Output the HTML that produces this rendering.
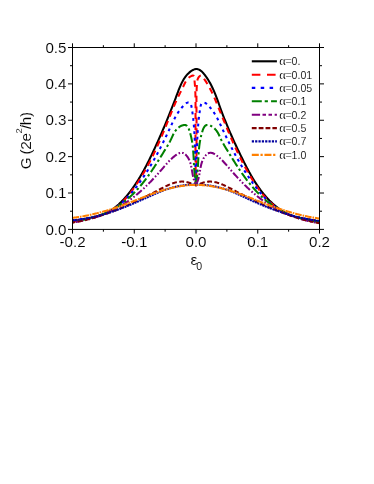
<!DOCTYPE html>
<html><head><meta charset="utf-8"><title>G vs eps0</title>
<style>
html,body{margin:0;padding:0;background:#fff;}
body{width:374px;height:484px;overflow:hidden;font-family:"Liberation Sans",sans-serif;}
svg{display:block;will-change:transform;}
text{font-family:"Liberation Sans",sans-serif;fill:#000;stroke:#fff;stroke-width:0.1px;}
</style></head><body>
<svg width="374" height="484" viewBox="0 0 374 484">
<defs><clipPath id="cp"><rect x="72.50" y="47.50" width="247.00" height="181.90"/></clipPath></defs>
<g clip-path="url(#cp)" fill="none" stroke-linejoin="round">
<path d="M72.51,220.97 L73.27,220.83 L74.04,220.69 L74.81,220.55 L75.58,220.42 L76.36,220.28 L77.14,220.15 L77.93,220.02 L78.71,219.89 L79.51,219.76 L80.30,219.62 L81.10,219.49 L81.89,219.36 L82.70,219.23 L83.50,219.09 L84.30,218.96 L85.10,218.82 L85.91,218.68 L86.71,218.53 L87.52,218.38 L88.33,218.23 L89.13,218.08 L89.93,217.92 L90.74,217.75 L91.54,217.58 L92.34,217.41 L93.14,217.22 L93.93,217.04 L94.73,216.84 L95.52,216.64 L96.30,216.43 L97.09,216.21 L97.87,215.99 L98.65,215.75 L99.42,215.51 L100.19,215.26 L100.95,215.01 L101.71,214.74 L102.46,214.47 L103.21,214.18 L103.95,213.89 L104.69,213.58 L105.41,213.26 L106.14,212.93 L106.85,212.58 L107.56,212.23 L108.26,211.86 L108.95,211.47 L109.64,211.08 L110.32,210.67 L110.99,210.26 L111.66,209.83 L112.32,209.39 L112.97,208.93 L113.62,208.47 L114.25,208.00 L114.89,207.52 L115.52,207.03 L116.14,206.53 L116.75,206.02 L117.36,205.50 L117.96,204.98 L118.56,204.45 L119.15,203.90 L119.74,203.35 L120.32,202.80 L120.89,202.24 L121.46,201.67 L122.03,201.09 L122.59,200.51 L123.14,199.92 L123.69,199.33 L124.23,198.73 L124.77,198.13 L125.31,197.52 L125.83,196.91 L126.36,196.30 L126.88,195.68 L127.40,195.06 L127.91,194.43 L128.42,193.80 L128.92,193.17 L129.42,192.54 L129.91,191.90 L130.40,191.26 L130.89,190.61 L131.37,189.97 L131.85,189.32 L132.33,188.67 L132.80,188.01 L133.27,187.35 L133.73,186.69 L134.19,186.03 L134.65,185.36 L135.10,184.70 L135.55,184.03 L135.99,183.35 L136.43,182.68 L136.87,182.00 L137.31,181.32 L137.74,180.64 L138.17,179.95 L138.60,179.27 L139.02,178.58 L139.44,177.89 L139.85,177.20 L140.27,176.51 L140.68,175.81 L141.08,175.11 L141.49,174.41 L141.89,173.71 L142.29,173.01 L142.69,172.31 L143.08,171.60 L143.47,170.90 L143.86,170.19 L144.25,169.48 L144.63,168.77 L145.01,168.06 L145.39,167.34 L145.77,166.63 L146.14,165.92 L146.51,165.20 L146.88,164.48 L147.25,163.77 L147.62,163.05 L147.98,162.33 L148.34,161.61 L148.70,160.89 L149.06,160.16 L149.42,159.44 L149.77,158.72 L150.12,158.00 L150.48,157.27 L150.83,156.55 L151.17,155.82 L151.52,155.10 L151.87,154.37 L152.21,153.65 L152.55,152.92 L152.89,152.20 L153.23,151.47 L153.57,150.75 L153.91,150.02 L154.25,149.30 L154.58,148.57 L154.92,147.85 L155.25,147.12 L155.58,146.40 L155.91,145.68 L156.24,144.95 L156.57,144.23 L156.90,143.50 L157.23,142.78 L157.56,142.05 L157.88,141.33 L158.21,140.60 L158.53,139.88 L158.85,139.15 L159.17,138.43 L159.50,137.70 L159.82,136.98 L160.14,136.25 L160.45,135.52 L160.77,134.80 L161.09,134.07 L161.40,133.34 L161.72,132.62 L162.03,131.89 L162.35,131.16 L162.66,130.43 L162.97,129.70 L163.28,128.97 L163.60,128.24 L163.91,127.51 L164.22,126.78 L164.52,126.04 L164.83,125.31 L165.14,124.58 L165.45,123.84 L165.75,123.11 L166.06,122.37 L166.36,121.63 L166.67,120.90 L166.97,120.16 L167.27,119.42 L167.58,118.68 L167.88,117.94 L168.18,117.19 L168.48,116.45 L168.78,115.71 L169.08,114.96 L169.38,114.22 L169.68,113.47 L169.98,112.72 L170.28,111.97 L170.57,111.22 L170.87,110.47 L171.17,109.72 L171.47,108.96 L171.76,108.21 L172.06,107.45 L172.35,106.70 L172.65,105.94 L172.94,105.18 L173.24,104.41 L173.53,103.65 L173.82,102.89 L174.12,102.12 L174.41,101.35 L174.70,100.59 L175.00,99.81 L175.29,99.04 L175.58,98.27 L175.87,97.49 L176.16,96.72 L176.46,95.94 L176.75,95.16 L177.04,94.38 L177.33,93.60 L177.62,92.81 L177.92,92.03 L178.21,91.25 L178.51,90.46 L178.81,89.69 L179.12,88.91 L179.43,88.13 L179.74,87.36 L180.06,86.60 L180.39,85.84 L180.72,85.08 L181.06,84.33 L181.41,83.59 L181.77,82.86 L182.14,82.13 L182.51,81.41 L182.90,80.71 L183.30,80.01 L183.71,79.32 L184.13,78.65 L184.57,77.98 L185.01,77.33 L185.48,76.69 L185.95,76.07 L186.45,75.46 L186.95,74.87 L187.48,74.29 L188.02,73.73 L188.58,73.18 L189.16,72.65 L189.75,72.15 L190.37,71.66 L191.00,71.19 L191.66,70.74 L192.32,70.33 L193.00,69.95 L193.69,69.63 L194.38,69.36 L195.07,69.17 L195.75,69.04 L196.43,69.00 L197.10,69.05 L197.75,69.17 L198.40,69.37 L199.03,69.64 L199.66,69.97 L200.27,70.36 L200.88,70.80 L201.47,71.30 L202.05,71.83 L202.62,72.40 L203.18,73.01 L203.72,73.64 L204.26,74.29 L204.78,74.95 L205.30,75.63 L205.80,76.32 L206.29,77.00 L206.76,77.69 L207.23,78.39 L207.69,79.09 L208.13,79.79 L208.57,80.50 L208.99,81.20 L209.41,81.92 L209.82,82.63 L210.22,83.35 L210.61,84.07 L210.99,84.79 L211.36,85.52 L211.73,86.25 L212.08,86.98 L212.44,87.71 L212.78,88.45 L213.12,89.19 L213.45,89.93 L213.78,90.67 L214.10,91.41 L214.41,92.16 L214.72,92.90 L215.03,93.65 L215.33,94.40 L215.63,95.15 L215.92,95.90 L216.21,96.66 L216.49,97.41 L216.78,98.17 L217.06,98.92 L217.34,99.68 L217.61,100.43 L217.89,101.19 L218.16,101.95 L218.43,102.71 L218.71,103.46 L218.98,104.22 L219.25,104.98 L219.52,105.73 L219.79,106.49 L220.06,107.25 L220.34,108.00 L220.61,108.76 L220.89,109.51 L221.16,110.27 L221.44,111.02 L221.72,111.77 L222.00,112.52 L222.29,113.27 L222.57,114.02 L222.86,114.77 L223.14,115.52 L223.43,116.27 L223.72,117.01 L224.02,117.76 L224.31,118.51 L224.60,119.25 L224.90,120.00 L225.20,120.74 L225.50,121.48 L225.80,122.22 L226.10,122.97 L226.40,123.71 L226.70,124.45 L227.01,125.19 L227.32,125.93 L227.62,126.67 L227.93,127.41 L228.24,128.14 L228.55,128.88 L228.87,129.62 L229.18,130.35 L229.50,131.09 L229.82,131.83 L230.13,132.56 L230.45,133.30 L230.77,134.03 L231.09,134.76 L231.42,135.50 L231.74,136.23 L232.07,136.96 L232.39,137.69 L232.72,138.42 L233.05,139.16 L233.38,139.89 L233.71,140.62 L234.04,141.35 L234.38,142.07 L234.71,142.80 L235.05,143.53 L235.38,144.26 L235.72,144.99 L236.06,145.72 L236.40,146.44 L236.74,147.17 L237.08,147.90 L237.43,148.62 L237.77,149.35 L238.12,150.08 L238.46,150.80 L238.81,151.53 L239.16,152.25 L239.51,152.98 L239.86,153.70 L240.21,154.42 L240.56,155.15 L240.92,155.87 L241.27,156.60 L241.63,157.32 L241.98,158.04 L242.34,158.77 L242.70,159.49 L243.06,160.21 L243.42,160.93 L243.78,161.66 L244.14,162.38 L244.50,163.10 L244.87,163.82 L245.24,164.54 L245.60,165.26 L245.97,165.97 L246.35,166.69 L246.72,167.41 L247.10,168.12 L247.47,168.84 L247.85,169.55 L248.23,170.26 L248.62,170.97 L249.00,171.68 L249.39,172.38 L249.78,173.09 L250.17,173.79 L250.57,174.49 L250.97,175.20 L251.37,175.89 L251.77,176.59 L252.18,177.28 L252.59,177.98 L253.00,178.67 L253.42,179.36 L253.84,180.04 L254.26,180.72 L254.68,181.41 L255.11,182.08 L255.54,182.76 L255.98,183.43 L256.42,184.10 L256.86,184.77 L257.31,185.44 L257.76,186.10 L258.21,186.76 L258.67,187.41 L259.13,188.07 L259.60,188.72 L260.07,189.36 L260.54,190.01 L261.02,190.65 L261.51,191.28 L262.00,191.91 L262.49,192.54 L262.99,193.17 L263.49,193.79 L264.00,194.41 L264.51,195.02 L265.02,195.63 L265.55,196.24 L266.07,196.84 L266.60,197.44 L267.14,198.03 L267.68,198.62 L268.23,199.20 L268.79,199.78 L269.34,200.36 L269.91,200.93 L270.48,201.49 L271.06,202.05 L271.64,202.61 L272.23,203.16 L272.82,203.71 L273.42,204.25 L274.03,204.78 L274.64,205.31 L275.25,205.83 L275.88,206.35 L276.51,206.86 L277.14,207.36 L277.78,207.85 L278.43,208.34 L279.08,208.82 L279.74,209.29 L280.41,209.76 L281.08,210.22 L281.75,210.66 L282.43,211.10 L283.12,211.53 L283.81,211.95 L284.51,212.36 L285.22,212.75 L285.93,213.14 L286.64,213.51 L287.36,213.87 L288.09,214.22 L288.82,214.55 L289.56,214.87 L290.31,215.18 L291.06,215.47 L291.81,215.75 L292.57,216.02 L293.34,216.27 L294.11,216.50 L294.88,216.73 L295.66,216.94 L296.45,217.14 L297.24,217.33 L298.03,217.51 L298.82,217.69 L299.62,217.85 L300.42,218.01 L301.22,218.16 L302.02,218.31 L302.83,218.45 L303.63,218.59 L304.44,218.72 L305.25,218.85 L306.05,218.99 L306.86,219.11 L307.67,219.24 L308.47,219.37 L309.28,219.51 L310.08,219.64 L310.88,219.78 L311.68,219.92 L312.48,220.06 L313.28,220.21 L314.07,220.37 L314.86,220.53 L315.64,220.70 L316.42,220.88 L317.20,221.07 L317.97,221.27 L318.74,221.48 L319.50,221.70" stroke="#000000" stroke-width="2.05"/>
<path d="M72.82,220.92 L73.97,220.77 L75.12,220.62 L76.29,220.46 L77.46,220.30 L78.63,220.13 L79.81,219.95 L81.00,219.77 L82.18,219.57 L83.37,219.37 L84.56,219.16 L85.76,218.94 L86.95,218.71 L88.14,218.47 L89.33,218.21 L90.52,217.95 L91.71,217.67 L92.90,217.38 L94.08,217.07 L95.26,216.75 L96.43,216.42 L97.60,216.07 L98.76,215.71 L99.91,215.32 L101.05,214.94 L102.19,214.53 L103.32,214.11 L104.44,213.67 L105.55,213.21 L106.64,212.73 L107.73,212.23 L108.80,211.71 L109.86,211.17 L110.91,210.61 L111.94,210.02 L112.95,209.41 L113.96,208.78 L114.94,208.12 L115.91,207.44 L116.86,206.74 L117.79,206.02 L118.72,205.27 L119.62,204.50 L120.51,203.72 L121.39,202.92 L122.25,202.09 L123.11,201.26 L123.94,200.40 L124.77,199.53 L125.58,198.65 L126.38,197.75 L127.17,196.84 L127.95,195.92 L128.72,194.98 L129.48,194.04 L130.23,193.09 L130.97,192.12 L131.70,191.16 L132.42,190.18 L133.13,189.20 L133.84,188.21 L134.53,187.22 L135.23,186.22 L135.91,185.22 L136.59,184.22 L137.26,183.21 L137.92,182.21 L138.58,181.19 L139.23,180.18 L139.87,179.16 L140.51,178.14 L141.14,177.12 L141.77,176.09 L142.39,175.06 L143.00,174.03 L143.61,173.00 L144.21,171.96 L144.81,170.92 L145.40,169.88 L145.99,168.84 L146.57,167.79 L147.14,166.74 L147.71,165.69 L148.28,164.63 L148.84,163.58 L149.40,162.52 L149.95,161.46 L150.49,160.39 L151.04,159.33 L151.57,158.26 L152.11,157.19 L152.64,156.12 L153.16,155.04 L153.68,153.97 L154.20,152.89 L154.72,151.81 L155.23,150.73 L155.73,149.65 L156.24,148.56 L156.74,147.47 L157.23,146.38 L157.72,145.29 L158.21,144.20 L158.70,143.11 L159.19,142.01 L159.67,140.92 L160.15,139.82 L160.62,138.72 L161.09,137.62 L161.57,136.52 L162.03,135.41 L162.50,134.31 L162.96,133.20 L163.43,132.09 L163.89,130.99 L164.35,129.88 L164.80,128.77 L165.26,127.65 L165.71,126.54 L166.16,125.43 L166.61,124.31 L167.06,123.20 L167.51,122.08 L167.96,120.97 L168.40,119.85 L168.85,118.73 L169.30,117.61 L169.74,116.50 L170.19,115.38 L170.64,114.26 L171.09,113.14 L171.54,112.03 L171.99,110.91 L172.45,109.80 L172.91,108.69 L173.37,107.58 L173.84,106.47 L174.31,105.36 L174.78,104.26 L175.26,103.16 L175.75,102.06 L176.24,100.97 L176.73,99.88 L177.23,98.79 L177.74,97.70 L178.26,96.62 L178.79,95.55 L179.32,94.48 L179.86,93.41 L180.40,92.34 L180.94,91.28 L181.48,90.22 L182.01,89.15 L182.54,88.09 L183.06,87.02 L183.56,85.94 L184.06,84.86 L184.56,83.79 L185.08,82.72 L185.64,81.68 L186.26,80.66 L186.96,79.67 L187.75,78.72 L188.65,77.82 L189.64,77.01 L190.69,76.34 L191.77,75.84 L192.85,75.55 L193.80,75.66 L194.22,76.59 L194.34,77.93 L194.43,79.27 L194.53,80.55 L194.63,81.78 L194.73,82.97 L194.83,84.14 L194.93,85.30 L195.02,86.46 L195.10,87.64 L195.17,88.81 L195.23,89.99 L195.29,91.17 L195.33,92.36 L195.38,93.55 L195.41,94.74 L195.44,95.94 L195.47,97.14 L195.49,98.34 L195.51,99.54 L195.52,100.75 L195.53,101.95 L195.54,103.16 L195.54,104.37 L195.54,105.58 L195.54,106.79 L195.54,107.99 L195.54,109.20 L195.53,110.41 L195.53,111.62 L195.53,112.83 L195.53,114.03 L195.52,115.24 L195.52,116.44 L195.52,117.65 L195.51,118.85 L195.51,120.05 L195.51,121.26 L195.51,122.46 L195.50,123.66 L195.50,124.86 L195.50,126.06 L195.49,127.26 L195.49,128.46 L195.49,129.66 L195.49,130.86 L195.49,132.06 L195.49,133.26 L195.48,134.46 L195.48,135.66 L195.48,136.85 L195.48,138.05 L195.48,139.25 L195.48,140.45 L195.48,141.64 L195.49,142.84 L195.49,144.04 L195.49,145.23 L195.49,146.43 L195.50,147.63 L195.50,148.82 L195.50,150.02 L195.51,151.22 L195.51,152.41 L195.52,153.61 L195.53,154.81 L195.54,156.00 L195.54,157.20 L195.55,158.40 L195.56,159.59 L195.57,160.79 L195.58,161.99 L195.59,163.19 L195.61,164.38 L195.62,165.58 L195.63,166.78 L195.65,167.98 L195.66,169.18 L195.68,170.38 L195.70,171.58 L195.72,172.78 L195.74,173.98 L195.76,175.18 L195.78,176.38 L195.80,177.59 L195.82,178.79 L195.85,179.99 L195.87,181.20 L195.90,182.40 L195.93,183.61 L195.96,184.81" stroke="#ff0000" stroke-width="2.05" stroke-dasharray="6.2 4.6" stroke-dashoffset="9.60"/>
<path d="M319.20,221.69 L318.03,221.38 L316.86,221.10 L315.69,220.83 L314.51,220.58 L313.33,220.34 L312.15,220.11 L310.96,219.90 L309.78,219.69 L308.59,219.48 L307.40,219.28 L306.21,219.08 L305.03,218.88 L303.84,218.67 L302.66,218.46 L301.48,218.23 L300.30,218.00 L299.13,217.76 L297.96,217.50 L296.79,217.22 L295.63,216.92 L294.47,216.60 L293.32,216.25 L292.18,215.88 L291.04,215.48 L289.91,215.05 L288.79,214.60 L287.68,214.11 L286.58,213.60 L285.48,213.07 L284.40,212.51 L283.33,211.93 L282.27,211.32 L281.23,210.70 L280.20,210.06 L279.18,209.40 L278.18,208.73 L277.19,208.04 L276.22,207.34 L275.26,206.62 L274.32,205.89 L273.39,205.14 L272.48,204.38 L271.58,203.60 L270.70,202.80 L269.83,201.99 L268.97,201.17 L268.12,200.34 L267.29,199.49 L266.47,198.63 L265.66,197.75 L264.87,196.87 L264.08,195.97 L263.31,195.07 L262.55,194.15 L261.79,193.22 L261.05,192.29 L260.32,191.34 L259.60,190.39 L258.88,189.43 L258.18,188.46 L257.49,187.48 L256.80,186.49 L256.12,185.50 L255.45,184.51 L254.79,183.50 L254.13,182.49 L253.49,181.48 L252.84,180.46 L252.21,179.44 L251.58,178.41 L250.96,177.39 L250.34,176.35 L249.73,175.32 L249.13,174.28 L248.52,173.25 L247.93,172.20 L247.34,171.16 L246.75,170.11 L246.17,169.07 L245.60,168.02 L245.02,166.96 L244.46,165.91 L243.90,164.85 L243.34,163.79 L242.78,162.73 L242.23,161.67 L241.69,160.61 L241.15,159.54 L240.61,158.47 L240.08,157.40 L239.55,156.33 L239.02,155.26 L238.50,154.18 L237.98,153.11 L237.47,152.03 L236.96,150.95 L236.45,149.87 L235.94,148.78 L235.44,147.70 L234.94,146.61 L234.44,145.53 L233.95,144.44 L233.46,143.35 L232.97,142.26 L232.49,141.17 L232.00,140.07 L231.52,138.98 L231.05,137.88 L230.57,136.79 L230.09,135.69 L229.62,134.59 L229.15,133.49 L228.68,132.39 L228.22,131.29 L227.75,130.19 L227.29,129.09 L226.83,127.98 L226.37,126.88 L225.91,125.77 L225.45,124.67 L225.00,123.56 L224.54,122.46 L224.09,121.35 L223.63,120.24 L223.18,119.13 L222.73,118.03 L222.28,116.92 L221.83,115.81 L221.37,114.70 L220.92,113.59 L220.47,112.48 L220.02,111.37 L219.58,110.26 L219.13,109.15 L218.68,108.04 L218.23,106.93 L217.77,105.82 L217.32,104.71 L216.87,103.60 L216.41,102.50 L215.95,101.39 L215.48,100.29 L215.01,99.19 L214.53,98.09 L214.05,96.99 L213.56,95.90 L213.06,94.81 L212.56,93.73 L212.05,92.65 L211.52,91.57 L210.99,90.50 L210.45,89.43 L209.89,88.37 L209.32,87.32 L208.74,86.27 L208.15,85.22 L207.54,84.19 L206.92,83.16 L206.29,82.13 L205.63,81.12 L204.96,80.11 L204.28,79.11 L203.57,78.12 L202.85,77.16 L202.10,76.36 L201.33,75.83 L200.51,75.71 L199.66,76.12 L198.83,76.98 L198.12,78.12 L197.60,79.34 L197.29,80.57 L197.11,81.81 L197.01,83.04 L196.93,84.26 L196.85,85.48 L196.78,86.70 L196.72,87.92 L196.67,89.13 L196.62,90.33 L196.58,91.54 L196.55,92.74 L196.52,93.94 L196.49,95.13 L196.48,96.33 L196.46,97.52 L196.45,98.71 L196.45,99.90 L196.44,101.08 L196.44,102.27 L196.44,103.46 L196.45,104.64 L196.45,105.83 L196.46,107.01 L196.47,108.20 L196.47,109.39 L196.48,110.57 L196.49,111.76 L196.50,112.95 L196.50,114.14 L196.51,115.33 L196.51,116.52 L196.52,117.72 L196.52,118.91 L196.53,120.10 L196.53,121.30 L196.54,122.49 L196.54,123.69 L196.54,124.88 L196.55,126.08 L196.55,127.28 L196.55,128.47 L196.55,129.67 L196.55,130.87 L196.55,132.07 L196.55,133.27 L196.55,134.47 L196.55,135.67 L196.55,136.87 L196.55,138.07 L196.54,139.27 L196.54,140.47 L196.54,141.67 L196.53,142.87 L196.53,144.07 L196.53,145.28 L196.52,146.48 L196.51,147.68 L196.51,148.88 L196.50,150.08 L196.49,151.28 L196.49,152.49 L196.48,153.69 L196.47,154.89 L196.46,156.09 L196.45,157.29 L196.44,158.49 L196.43,159.69 L196.42,160.89 L196.40,162.09 L196.39,163.29 L196.38,164.49 L196.36,165.69 L196.35,166.88 L196.33,168.08 L196.32,169.28 L196.30,170.48 L196.28,171.67 L196.26,172.87 L196.25,174.06 L196.23,175.26 L196.21,176.45 L196.19,177.64 L196.17,178.84 L196.14,180.03 L196.12,181.22 L196.10,182.41 L196.08,183.60 L196.05,184.78" stroke="#ff0000" stroke-width="2.05" stroke-dasharray="6.2 4.6" stroke-dashoffset="5.94"/>
<path d="M72.50,220.90 L73.48,220.67 L74.46,220.45 L75.44,220.24 L76.42,220.04 L77.41,219.85 L78.40,219.68 L79.39,219.50 L80.38,219.34 L81.37,219.18 L82.36,219.02 L83.36,218.87 L84.35,218.71 L85.34,218.56 L86.33,218.41 L87.33,218.25 L88.32,218.09 L89.31,217.93 L90.30,217.75 L91.28,217.58 L92.27,217.39 L93.25,217.19 L94.23,216.99 L95.20,216.77 L96.18,216.53 L97.15,216.29 L98.12,216.02 L99.08,215.74 L100.04,215.44 L100.99,215.14 L101.94,214.81 L102.89,214.47 L103.83,214.10 L104.76,213.72 L105.69,213.33 L106.61,212.91 L107.52,212.48 L108.42,212.04 L109.32,211.57 L110.21,211.10 L111.09,210.61 L111.96,210.10 L112.82,209.58 L113.67,209.05 L114.51,208.50 L115.34,207.94 L116.16,207.37 L116.98,206.79 L117.78,206.19 L118.57,205.59 L119.35,204.97 L120.13,204.34 L120.89,203.70 L121.65,203.05 L122.40,202.39 L123.13,201.72 L123.87,201.04 L124.59,200.36 L125.31,199.66 L126.01,198.95 L126.71,198.24 L127.41,197.52 L128.09,196.79 L128.77,196.06 L129.44,195.31 L130.11,194.56 L130.77,193.81 L131.42,193.05 L132.07,192.28 L132.71,191.51 L133.35,190.73 L133.98,189.95 L134.60,189.16 L135.22,188.37 L135.84,187.57 L136.45,186.77 L137.05,185.97 L137.65,185.17 L138.25,184.36 L138.84,183.55 L139.43,182.74 L140.01,181.92 L140.59,181.10 L141.17,180.28 L141.74,179.46 L142.31,178.63 L142.87,177.81 L143.43,176.97 L143.99,176.14 L144.54,175.31 L145.09,174.47 L145.63,173.63 L146.17,172.79 L146.71,171.95 L147.25,171.10 L147.78,170.25 L148.30,169.40 L148.83,168.55 L149.35,167.69 L149.87,166.84 L150.38,165.98 L150.89,165.12 L151.40,164.26 L151.90,163.40 L152.41,162.53 L152.91,161.66 L153.40,160.79 L153.90,159.92 L154.39,159.05 L154.87,158.18 L155.36,157.30 L155.84,156.42 L156.32,155.54 L156.80,154.66 L157.27,153.78 L157.74,152.90 L158.21,152.01 L158.68,151.13 L159.15,150.24 L159.61,149.35 L160.07,148.46 L160.53,147.57 L160.98,146.68 L161.44,145.78 L161.89,144.89 L162.34,143.99 L162.79,143.10 L163.23,142.20 L163.68,141.30 L164.12,140.40 L164.56,139.50 L165.00,138.60 L165.44,137.69 L165.87,136.79 L166.31,135.88 L166.74,134.98 L167.17,134.07 L167.60,133.17 L168.03,132.26 L168.46,131.35 L168.88,130.44 L169.31,129.53 L169.73,128.62 L170.15,127.71 L170.57,126.80 L171.00,125.89 L171.42,124.98 L171.85,124.07 L172.27,123.16 L172.71,122.26 L173.15,121.36 L173.59,120.46 L174.04,119.56 L174.50,118.67 L174.97,117.79 L175.45,116.91 L175.94,116.04 L176.44,115.17 L176.95,114.31 L177.48,113.46 L178.03,112.62 L178.58,111.79 L179.16,110.96 L179.75,110.15 L180.37,109.34 L181.00,108.55 L181.65,107.77 L182.32,107.00 L183.02,106.24 L183.74,105.50 L184.48,104.76 L185.25,104.06 L186.04,103.42 L186.84,102.91 L187.65,102.59 L188.45,102.50 L189.25,102.69 L189.97,103.13 L190.54,103.77 L190.96,104.58 L191.25,105.50 L191.47,106.49 L191.65,107.52 L191.82,108.55 L191.98,109.57 L192.14,110.60 L192.29,111.62 L192.44,112.64 L192.58,113.66 L192.71,114.68 L192.84,115.70 L192.97,116.72 L193.09,117.73 L193.21,118.75 L193.32,119.76 L193.42,120.77 L193.52,121.78 L193.62,122.79 L193.71,123.80 L193.80,124.81 L193.89,125.81 L193.97,126.82 L194.05,127.82 L194.12,128.83 L194.19,129.83 L194.26,130.83 L194.32,131.83 L194.38,132.83 L194.44,133.83 L194.49,134.83 L194.54,135.83 L194.59,136.82 L194.64,137.82 L194.68,138.82 L194.72,139.81 L194.76,140.81 L194.80,141.80 L194.84,142.80 L194.87,143.79 L194.90,144.79 L194.93,145.78 L194.96,146.78 L194.98,147.77 L195.01,148.77 L195.03,149.76 L195.06,150.75 L195.08,151.75 L195.10,152.74 L195.12,153.74 L195.14,154.73 L195.16,155.72 L195.18,156.72 L195.20,157.71 L195.22,158.71 L195.23,159.71 L195.25,160.70 L195.27,161.70 L195.29,162.70 L195.31,163.69 L195.33,164.69 L195.35,165.69 L195.37,166.69 L195.40,167.69 L195.42,168.69 L195.45,169.69 L195.47,170.70 L195.50,171.70 L195.53,172.70 L195.56,173.71 L195.59,174.72 L195.62,175.72 L195.66,176.73 L195.70,177.74 L195.74,178.75 L195.78,179.76 L195.83,180.78 L195.88,181.79 L195.93,182.81 L195.98,183.83 L196.00,184.84 L196.02,183.83 L196.07,182.81 L196.12,181.79 L196.17,180.78 L196.22,179.76 L196.26,178.75 L196.30,177.74 L196.34,176.73 L196.38,175.72 L196.41,174.72 L196.44,173.71 L196.47,172.70 L196.50,171.70 L196.53,170.70 L196.55,169.69 L196.58,168.69 L196.60,167.69 L196.63,166.69 L196.65,165.69 L196.67,164.69 L196.69,163.69 L196.71,162.70 L196.73,161.70 L196.75,160.70 L196.77,159.71 L196.78,158.71 L196.80,157.71 L196.82,156.72 L196.84,155.72 L196.86,154.73 L196.88,153.74 L196.90,152.74 L196.92,151.75 L196.94,150.75 L196.97,149.76 L196.99,148.77 L197.02,147.77 L197.04,146.78 L197.07,145.78 L197.10,144.79 L197.13,143.79 L197.16,142.80 L197.20,141.80 L197.24,140.81 L197.28,139.81 L197.32,138.82 L197.36,137.82 L197.41,136.82 L197.46,135.83 L197.51,134.83 L197.56,133.83 L197.62,132.83 L197.68,131.83 L197.74,130.83 L197.81,129.83 L197.88,128.83 L197.95,127.82 L198.03,126.82 L198.11,125.81 L198.20,124.81 L198.29,123.80 L198.38,122.79 L198.48,121.78 L198.58,120.77 L198.68,119.76 L198.79,118.75 L198.91,117.73 L199.03,116.72 L199.16,115.70 L199.29,114.68 L199.42,113.66 L199.56,112.64 L199.71,111.62 L199.86,110.60 L200.02,109.57 L200.18,108.55 L200.35,107.52 L200.53,106.49 L200.75,105.50 L201.04,104.58 L201.46,103.77 L202.03,103.13 L202.75,102.69 L203.55,102.50 L204.35,102.59 L205.16,102.91 L205.96,103.42 L206.75,104.06 L207.52,104.76 L208.26,105.50 L208.98,106.24 L209.68,107.00 L210.35,107.77 L211.00,108.55 L211.63,109.34 L212.25,110.15 L212.84,110.96 L213.42,111.79 L213.97,112.62 L214.52,113.46 L215.05,114.31 L215.56,115.17 L216.06,116.04 L216.55,116.91 L217.03,117.79 L217.50,118.67 L217.96,119.56 L218.41,120.46 L218.85,121.36 L219.29,122.26 L219.73,123.16 L220.15,124.07 L220.58,124.98 L221.00,125.89 L221.43,126.80 L221.85,127.71 L222.27,128.62 L222.69,129.53 L223.12,130.44 L223.54,131.35 L223.97,132.26 L224.40,133.17 L224.83,134.07 L225.26,134.98 L225.69,135.88 L226.13,136.79 L226.56,137.69 L227.00,138.60 L227.44,139.50 L227.88,140.40 L228.32,141.30 L228.77,142.20 L229.21,143.10 L229.66,143.99 L230.11,144.89 L230.56,145.78 L231.02,146.68 L231.47,147.57 L231.93,148.46 L232.39,149.35 L232.85,150.24 L233.32,151.13 L233.79,152.01 L234.26,152.90 L234.73,153.78 L235.20,154.66 L235.68,155.54 L236.16,156.42 L236.64,157.30 L237.13,158.18 L237.61,159.05 L238.10,159.92 L238.60,160.79 L239.09,161.66 L239.59,162.53 L240.10,163.40 L240.60,164.26 L241.11,165.12 L241.62,165.98 L242.13,166.84 L242.65,167.69 L243.17,168.55 L243.70,169.40 L244.22,170.25 L244.75,171.10 L245.29,171.95 L245.83,172.79 L246.37,173.63 L246.91,174.47 L247.46,175.31 L248.01,176.14 L248.57,176.97 L249.13,177.81 L249.69,178.63 L250.26,179.46 L250.83,180.28 L251.41,181.10 L251.99,181.92 L252.57,182.74 L253.16,183.55 L253.75,184.36 L254.35,185.17 L254.95,185.97 L255.55,186.77 L256.16,187.57 L256.78,188.37 L257.40,189.16 L258.02,189.95 L258.65,190.73 L259.29,191.51 L259.93,192.28 L260.58,193.05 L261.23,193.81 L261.89,194.56 L262.56,195.31 L263.23,196.06 L263.91,196.79 L264.59,197.52 L265.29,198.24 L265.99,198.95 L266.69,199.66 L267.41,200.36 L268.13,201.04 L268.87,201.72 L269.60,202.39 L270.35,203.05 L271.11,203.70 L271.87,204.34 L272.65,204.97 L273.43,205.59 L274.22,206.19 L275.02,206.79 L275.84,207.37 L276.66,207.94 L277.49,208.50 L278.33,209.05 L279.18,209.59 L280.04,210.12 L280.91,210.64 L281.79,211.14 L282.68,211.63 L283.58,212.11 L284.48,212.57 L285.39,213.02 L286.31,213.45 L287.24,213.87 L288.17,214.26 L289.11,214.65 L290.06,215.01 L291.01,215.36 L291.96,215.69 L292.92,216.00 L293.88,216.29 L294.85,216.56 L295.82,216.82 L296.80,217.07 L297.77,217.30 L298.75,217.53 L299.73,217.74 L300.72,217.94 L301.70,218.13 L302.69,218.32 L303.68,218.50 L304.67,218.68 L305.67,218.85 L306.66,219.02 L307.65,219.19 L308.64,219.36 L309.64,219.53 L310.63,219.71 L311.62,219.89 L312.61,220.07 L313.60,220.26 L314.59,220.46 L315.58,220.66 L316.56,220.88 L317.54,221.11 L318.52,221.35 L319.50,221.60" stroke="#0000ff" stroke-width="2.05" stroke-dasharray="2.8 3.8" stroke-dashoffset="5.61"/>
<path d="M72.47,221.41 L73.31,221.32 L74.16,221.22 L75.00,221.12 L75.84,221.02 L76.68,220.90 L77.52,220.79 L78.36,220.67 L79.20,220.54 L80.04,220.40 L80.87,220.27 L81.71,220.12 L82.54,219.97 L83.38,219.82 L84.21,219.66 L85.04,219.49 L85.87,219.32 L86.70,219.14 L87.53,218.95 L88.35,218.76 L89.18,218.57 L90.00,218.36 L90.82,218.15 L91.64,217.94 L92.45,217.72 L93.27,217.49 L94.08,217.25 L94.89,217.01 L95.70,216.76 L96.50,216.51 L97.30,216.25 L98.10,215.98 L98.90,215.70 L99.70,215.42 L100.49,215.14 L101.28,214.85 L102.06,214.56 L102.84,214.25 L103.62,213.94 L104.40,213.63 L105.17,213.30 L105.94,212.97 L106.71,212.63 L107.47,212.28 L108.23,211.93 L108.98,211.57 L109.73,211.20 L110.48,210.82 L111.22,210.43 L111.96,210.04 L112.70,209.63 L113.43,209.22 L114.15,208.80 L114.87,208.38 L115.59,207.94 L116.30,207.50 L117.01,207.05 L117.72,206.59 L118.42,206.13 L119.11,205.65 L119.80,205.17 L120.49,204.69 L121.17,204.19 L121.85,203.69 L122.53,203.18 L123.20,202.67 L123.86,202.15 L124.52,201.62 L125.18,201.09 L125.83,200.55 L126.48,200.01 L127.12,199.46 L127.76,198.90 L128.40,198.34 L129.03,197.77 L129.65,197.20 L130.28,196.63 L130.89,196.04 L131.51,195.46 L132.12,194.87 L132.72,194.27 L133.32,193.67 L133.92,193.06 L134.51,192.46 L135.10,191.84 L135.68,191.23 L136.26,190.60 L136.83,189.98 L137.40,189.35 L137.97,188.72 L138.53,188.09 L139.09,187.45 L139.64,186.81 L140.19,186.17 L140.73,185.52 L141.27,184.87 L141.81,184.22 L142.34,183.56 L142.87,182.91 L143.39,182.25 L143.91,181.59 L144.43,180.92 L144.94,180.26 L145.45,179.59 L145.96,178.92 L146.46,178.24 L146.96,177.57 L147.46,176.89 L147.95,176.21 L148.44,175.53 L148.93,174.84 L149.41,174.16 L149.89,173.47 L150.37,172.78 L150.85,172.09 L151.33,171.40 L151.80,170.70 L152.27,170.01 L152.73,169.31 L153.20,168.61 L153.66,167.91 L154.13,167.21 L154.59,166.51 L155.04,165.80 L155.50,165.10 L155.96,164.39 L156.41,163.69 L156.86,162.98 L157.31,162.27 L157.76,161.56 L158.21,160.84 L158.66,160.13 L159.10,159.42 L159.55,158.71 L159.99,157.99 L160.44,157.28 L160.88,156.56 L161.33,155.84 L161.77,155.13 L162.21,154.41 L162.65,153.69 L163.10,152.97 L163.54,152.26 L163.98,151.54 L164.42,150.82 L164.86,150.10 L165.31,149.38 L165.75,148.66 L166.19,147.94 L166.64,147.22 L167.08,146.50 L167.52,145.78 L167.95,145.06 L168.38,144.33 L168.80,143.60 L169.22,142.87 L169.62,142.13 L170.02,141.39 L170.40,140.63 L170.76,139.88 L171.12,139.12 L171.47,138.35 L171.82,137.58 L172.16,136.82 L172.51,136.06 L172.87,135.30 L173.24,134.54 L173.62,133.80 L174.02,133.06 L174.44,132.34 L174.89,131.63 L175.36,130.94 L175.87,130.26 L176.42,129.60 L177.00,128.97 L177.63,128.36 L178.30,127.77 L179.02,127.21 L179.79,126.68 L180.60,126.20 L181.42,125.78 L182.25,125.43 L183.06,125.17 L183.85,125.01 L184.60,124.96 L185.30,125.04 L185.93,125.26 L186.51,125.59 L187.03,126.04 L187.50,126.59 L187.92,127.22 L188.30,127.91 L188.65,128.66 L188.98,129.46 L189.27,130.28 L189.55,131.12 L189.82,131.96 L190.07,132.80 L190.31,133.64 L190.54,134.48 L190.76,135.32 L190.97,136.16 L191.16,137.00 L191.35,137.84 L191.52,138.68 L191.69,139.52 L191.85,140.36 L192.00,141.20 L192.14,142.04 L192.27,142.87 L192.39,143.71 L192.51,144.55 L192.62,145.39 L192.72,146.23 L192.81,147.07 L192.90,147.91 L192.99,148.74 L193.07,149.58 L193.14,150.42 L193.21,151.26 L193.28,152.10 L193.34,152.94 L193.39,153.77 L193.45,154.61 L193.50,155.45 L193.55,156.29 L193.60,157.13 L193.64,157.96 L193.68,158.80 L193.73,159.64 L193.77,160.48 L193.81,161.32 L193.85,162.15 L193.89,162.99 L193.93,163.83 L193.97,164.67 L194.02,165.51 L194.06,166.34 L194.11,167.18 L194.16,168.02 L194.21,168.86 L194.27,169.70 L194.33,170.54 L194.39,171.37 L194.46,172.21 L194.53,173.05 L194.60,173.89 L194.68,174.73 L194.77,175.57 L194.86,176.41 L194.96,177.25 L195.07,178.09 L195.18,178.93 L195.30,179.77 L195.43,180.60 L195.56,181.44 L195.71,182.28 L195.86,183.12 L196.00,183.96 L196.00,184.81 L196.00,183.96 L196.14,183.12 L196.29,182.28 L196.44,181.44 L196.57,180.60 L196.70,179.77 L196.82,178.93 L196.93,178.09 L197.04,177.25 L197.14,176.41 L197.23,175.57 L197.32,174.73 L197.40,173.89 L197.47,173.05 L197.54,172.21 L197.61,171.37 L197.67,170.54 L197.73,169.70 L197.79,168.86 L197.84,168.02 L197.89,167.18 L197.94,166.34 L197.98,165.51 L198.03,164.67 L198.07,163.83 L198.11,162.99 L198.15,162.15 L198.19,161.32 L198.23,160.48 L198.27,159.64 L198.32,158.80 L198.36,157.96 L198.40,157.13 L198.45,156.29 L198.50,155.45 L198.55,154.61 L198.61,153.77 L198.66,152.94 L198.72,152.10 L198.79,151.26 L198.86,150.42 L198.93,149.58 L199.01,148.74 L199.10,147.91 L199.19,147.07 L199.28,146.23 L199.38,145.39 L199.49,144.55 L199.61,143.71 L199.73,142.87 L199.86,142.04 L200.00,141.20 L200.15,140.36 L200.31,139.52 L200.48,138.68 L200.65,137.84 L200.84,137.00 L201.03,136.16 L201.24,135.32 L201.46,134.48 L201.69,133.64 L201.93,132.80 L202.18,131.96 L202.45,131.12 L202.73,130.28 L203.02,129.46 L203.35,128.66 L203.70,127.91 L204.08,127.22 L204.50,126.59 L204.97,126.04 L205.49,125.59 L206.07,125.26 L206.70,125.04 L207.40,124.96 L208.15,125.01 L208.94,125.17 L209.75,125.43 L210.58,125.78 L211.40,126.20 L212.21,126.68 L212.98,127.21 L213.70,127.77 L214.37,128.36 L215.00,128.97 L215.58,129.60 L216.13,130.26 L216.64,130.94 L217.11,131.63 L217.56,132.34 L217.98,133.06 L218.38,133.80 L218.76,134.54 L219.13,135.30 L219.49,136.06 L219.84,136.82 L220.18,137.58 L220.53,138.35 L220.88,139.12 L221.24,139.88 L221.60,140.63 L221.98,141.39 L222.38,142.13 L222.78,142.87 L223.20,143.60 L223.62,144.33 L224.05,145.06 L224.48,145.78 L224.92,146.50 L225.36,147.22 L225.81,147.94 L226.25,148.66 L226.69,149.38 L227.14,150.10 L227.58,150.82 L228.02,151.54 L228.46,152.26 L228.90,152.97 L229.35,153.69 L229.79,154.41 L230.23,155.13 L230.67,155.84 L231.12,156.56 L231.56,157.28 L232.01,157.99 L232.45,158.71 L232.90,159.42 L233.34,160.13 L233.79,160.84 L234.24,161.56 L234.69,162.27 L235.14,162.98 L235.59,163.69 L236.04,164.39 L236.50,165.10 L236.96,165.80 L237.41,166.51 L237.87,167.21 L238.34,167.91 L238.80,168.61 L239.27,169.31 L239.73,170.01 L240.20,170.70 L240.67,171.40 L241.15,172.09 L241.63,172.78 L242.11,173.47 L242.59,174.16 L243.07,174.84 L243.56,175.53 L244.05,176.21 L244.54,176.89 L245.04,177.57 L245.54,178.24 L246.04,178.92 L246.55,179.59 L247.06,180.26 L247.57,180.92 L248.09,181.59 L248.61,182.25 L249.13,182.91 L249.66,183.56 L250.19,184.22 L250.73,184.87 L251.27,185.52 L251.81,186.17 L252.36,186.81 L252.91,187.45 L253.47,188.09 L254.03,188.72 L254.60,189.35 L255.17,189.98 L255.74,190.60 L256.32,191.23 L256.90,191.84 L257.49,192.46 L258.08,193.06 L258.68,193.67 L259.28,194.27 L259.88,194.87 L260.49,195.46 L261.11,196.04 L261.72,196.63 L262.35,197.20 L262.97,197.77 L263.60,198.34 L264.24,198.90 L264.88,199.46 L265.52,200.01 L266.17,200.55 L266.82,201.09 L267.48,201.62 L268.14,202.15 L268.80,202.67 L269.47,203.18 L270.15,203.69 L270.83,204.19 L271.51,204.69 L272.20,205.17 L272.89,205.65 L273.58,206.13 L274.28,206.59 L274.99,207.05 L275.70,207.50 L276.41,207.94 L277.13,208.38 L277.85,208.80 L278.57,209.23 L279.30,209.65 L280.04,210.06 L280.78,210.46 L281.52,210.86 L282.27,211.25 L283.02,211.63 L283.77,212.01 L284.53,212.37 L285.29,212.74 L286.06,213.09 L286.83,213.44 L287.60,213.78 L288.38,214.11 L289.16,214.43 L289.94,214.75 L290.72,215.07 L291.51,215.37 L292.30,215.67 L293.10,215.96 L293.90,216.25 L294.70,216.52 L295.50,216.80 L296.30,217.06 L297.11,217.32 L297.92,217.57 L298.73,217.82 L299.55,218.06 L300.36,218.30 L301.18,218.52 L302.00,218.75 L302.82,218.96 L303.65,219.17 L304.47,219.38 L305.30,219.57 L306.13,219.77 L306.96,219.95 L307.79,220.13 L308.62,220.31 L309.46,220.48 L310.29,220.64 L311.13,220.80 L311.96,220.96 L312.80,221.11 L313.64,221.25 L314.48,221.39 L315.32,221.52 L316.16,221.65 L317.00,221.77 L317.84,221.89 L318.69,222.00 L319.53,222.11" stroke="#008000" stroke-width="2.05" stroke-dasharray="9.6 2.8 2.3 2.8" stroke-dashoffset="8.77"/>
<path d="M72.46,222.38 L73.12,222.31 L73.78,222.23 L74.43,222.14 L75.09,222.06 L75.74,221.96 L76.40,221.87 L77.05,221.77 L77.70,221.67 L78.36,221.56 L79.01,221.45 L79.66,221.33 L80.31,221.22 L80.95,221.09 L81.60,220.97 L82.25,220.84 L82.89,220.71 L83.54,220.57 L84.18,220.43 L84.82,220.29 L85.47,220.14 L86.11,219.99 L86.75,219.83 L87.39,219.68 L88.02,219.51 L88.66,219.35 L89.30,219.18 L89.93,219.01 L90.57,218.83 L91.20,218.65 L91.83,218.47 L92.46,218.28 L93.09,218.09 L93.72,217.90 L94.35,217.70 L94.97,217.50 L95.60,217.29 L96.22,217.09 L96.84,216.88 L97.46,216.66 L98.08,216.44 L98.70,216.22 L99.32,216.00 L99.94,215.77 L100.55,215.55 L101.17,215.32 L101.78,215.09 L102.39,214.85 L103.00,214.61 L103.61,214.37 L104.22,214.13 L104.82,213.88 L105.43,213.63 L106.03,213.37 L106.63,213.12 L107.23,212.85 L107.83,212.59 L108.43,212.32 L109.02,212.05 L109.62,211.78 L110.21,211.50 L110.80,211.22 L111.39,210.94 L111.98,210.65 L112.57,210.36 L113.15,210.07 L113.74,209.77 L114.32,209.47 L114.90,209.17 L115.48,208.86 L116.06,208.56 L116.63,208.24 L117.21,207.93 L117.78,207.61 L118.35,207.29 L118.92,206.97 L119.49,206.64 L120.06,206.31 L120.62,205.98 L121.18,205.64 L121.74,205.30 L122.30,204.96 L122.86,204.62 L123.41,204.27 L123.97,203.92 L124.52,203.57 L125.07,203.21 L125.62,202.85 L126.16,202.49 L126.71,202.12 L127.25,201.75 L127.79,201.38 L128.33,201.01 L128.87,200.63 L129.40,200.25 L129.94,199.87 L130.47,199.49 L131.00,199.10 L131.52,198.71 L132.05,198.32 L132.57,197.92 L133.09,197.52 L133.61,197.12 L134.13,196.72 L134.64,196.31 L135.16,195.90 L135.67,195.49 L136.18,195.07 L136.68,194.66 L137.19,194.24 L137.69,193.81 L138.19,193.39 L138.69,192.96 L139.19,192.53 L139.68,192.10 L140.18,191.67 L140.67,191.23 L141.16,190.80 L141.65,190.36 L142.14,189.91 L142.62,189.47 L143.10,189.02 L143.58,188.58 L144.06,188.13 L144.54,187.67 L145.02,187.22 L145.49,186.77 L145.97,186.31 L146.44,185.85 L146.91,185.39 L147.38,184.93 L147.84,184.47 L148.31,184.00 L148.77,183.54 L149.23,183.07 L149.69,182.60 L150.15,182.13 L150.61,181.66 L151.07,181.18 L151.52,180.71 L151.98,180.23 L152.43,179.76 L152.88,179.28 L153.33,178.80 L153.78,178.32 L154.22,177.84 L154.67,177.36 L155.11,176.88 L155.56,176.40 L156.00,175.91 L156.44,175.43 L156.88,174.94 L157.32,174.46 L157.75,173.97 L158.19,173.48 L158.62,173.00 L159.06,172.51 L159.49,172.02 L159.92,171.53 L160.35,171.04 L160.78,170.55 L161.21,170.06 L161.64,169.57 L162.06,169.08 L162.49,168.59 L162.91,168.10 L163.34,167.61 L163.76,167.12 L164.18,166.63 L164.60,166.14 L165.03,165.65 L165.45,165.16 L165.88,164.67 L166.30,164.19 L166.74,163.70 L167.17,163.21 L167.61,162.73 L168.05,162.25 L168.50,161.77 L168.95,161.29 L169.41,160.81 L169.87,160.34 L170.35,159.87 L170.83,159.40 L171.32,158.93 L171.81,158.47 L172.32,158.01 L172.83,157.55 L173.36,157.10 L173.90,156.65 L174.44,156.21 L175.00,155.77 L175.57,155.34 L176.15,154.92 L176.73,154.53 L177.32,154.16 L177.91,153.83 L178.50,153.53 L179.09,153.27 L179.67,153.06 L180.26,152.91 L180.84,152.81 L181.41,152.77 L181.97,152.80 L182.52,152.89 L183.07,153.05 L183.60,153.27 L184.11,153.54 L184.62,153.87 L185.10,154.24 L185.58,154.65 L186.03,155.09 L186.47,155.57 L186.89,156.07 L187.29,156.60 L187.67,157.15 L188.03,157.70 L188.36,158.27 L188.68,158.85 L188.97,159.43 L189.25,160.03 L189.51,160.63 L189.75,161.24 L189.97,161.86 L190.18,162.48 L190.38,163.11 L190.57,163.74 L190.74,164.38 L190.90,165.03 L191.05,165.67 L191.20,166.33 L191.33,166.98 L191.46,167.64 L191.58,168.30 L191.70,168.96 L191.82,169.62 L191.93,170.29 L192.04,170.95 L192.15,171.62 L192.26,172.28 L192.38,172.94 L192.49,173.60 L192.61,174.26 L192.73,174.92 L192.86,175.57 L192.99,176.22 L193.13,176.87 L193.28,177.51 L193.44,178.15 L193.61,178.78 L193.79,179.41 L193.99,180.02 L194.20,180.64 L194.42,181.24 L194.66,181.84 L194.91,182.43 L195.18,183.01 L195.47,183.58 L195.78,184.15 L196.00,184.70 L196.22,184.15 L196.53,183.58 L196.82,183.01 L197.09,182.43 L197.34,181.84 L197.58,181.24 L197.80,180.64 L198.01,180.02 L198.21,179.41 L198.39,178.78 L198.56,178.15 L198.72,177.51 L198.87,176.87 L199.01,176.22 L199.14,175.57 L199.27,174.92 L199.39,174.26 L199.51,173.60 L199.62,172.94 L199.74,172.28 L199.85,171.62 L199.96,170.95 L200.07,170.29 L200.18,169.62 L200.30,168.96 L200.42,168.30 L200.54,167.64 L200.67,166.98 L200.80,166.33 L200.95,165.67 L201.10,165.03 L201.26,164.38 L201.43,163.74 L201.62,163.11 L201.82,162.48 L202.03,161.86 L202.25,161.24 L202.49,160.63 L202.75,160.03 L203.03,159.43 L203.32,158.85 L203.64,158.27 L203.97,157.70 L204.33,157.15 L204.71,156.60 L205.11,156.07 L205.53,155.57 L205.97,155.09 L206.42,154.65 L206.90,154.24 L207.38,153.87 L207.89,153.54 L208.40,153.27 L208.93,153.05 L209.48,152.89 L210.03,152.80 L210.59,152.77 L211.16,152.81 L211.74,152.91 L212.33,153.06 L212.91,153.27 L213.50,153.53 L214.09,153.83 L214.68,154.16 L215.27,154.53 L215.85,154.92 L216.43,155.34 L217.00,155.77 L217.56,156.21 L218.10,156.65 L218.64,157.10 L219.17,157.55 L219.68,158.01 L220.19,158.47 L220.68,158.93 L221.17,159.40 L221.65,159.87 L222.13,160.34 L222.59,160.81 L223.05,161.29 L223.50,161.77 L223.95,162.25 L224.39,162.73 L224.83,163.21 L225.26,163.70 L225.70,164.19 L226.12,164.67 L226.55,165.16 L226.97,165.65 L227.40,166.14 L227.82,166.63 L228.24,167.12 L228.66,167.61 L229.09,168.10 L229.51,168.59 L229.94,169.08 L230.36,169.57 L230.79,170.06 L231.22,170.55 L231.65,171.04 L232.08,171.53 L232.51,172.02 L232.94,172.51 L233.38,173.00 L233.81,173.48 L234.25,173.97 L234.68,174.46 L235.12,174.94 L235.56,175.43 L236.00,175.91 L236.44,176.40 L236.89,176.88 L237.33,177.36 L237.78,177.84 L238.22,178.32 L238.67,178.80 L239.12,179.28 L239.57,179.76 L240.02,180.23 L240.48,180.71 L240.93,181.18 L241.39,181.66 L241.85,182.13 L242.31,182.60 L242.77,183.07 L243.23,183.54 L243.69,184.00 L244.16,184.47 L244.62,184.93 L245.09,185.39 L245.56,185.85 L246.03,186.31 L246.51,186.77 L246.98,187.22 L247.46,187.67 L247.94,188.13 L248.42,188.58 L248.90,189.02 L249.38,189.47 L249.86,189.91 L250.35,190.36 L250.84,190.80 L251.33,191.23 L251.82,191.67 L252.32,192.10 L252.81,192.53 L253.31,192.96 L253.81,193.39 L254.31,193.81 L254.81,194.24 L255.32,194.66 L255.82,195.07 L256.33,195.49 L256.84,195.90 L257.36,196.31 L257.87,196.72 L258.39,197.12 L258.91,197.52 L259.43,197.92 L259.95,198.32 L260.48,198.71 L261.00,199.10 L261.53,199.49 L262.06,199.87 L262.60,200.25 L263.13,200.63 L263.67,201.01 L264.21,201.38 L264.75,201.75 L265.29,202.12 L265.84,202.49 L266.38,202.85 L266.93,203.21 L267.48,203.57 L268.03,203.92 L268.59,204.27 L269.14,204.62 L269.70,204.96 L270.26,205.30 L270.82,205.64 L271.38,205.98 L271.94,206.31 L272.51,206.64 L273.08,206.97 L273.65,207.29 L274.22,207.61 L274.79,207.93 L275.37,208.24 L275.94,208.56 L276.52,208.86 L277.10,209.17 L277.68,209.47 L278.26,209.77 L278.85,210.07 L279.43,210.37 L280.02,210.67 L280.61,210.96 L281.20,211.26 L281.79,211.55 L282.38,211.83 L282.98,212.12 L283.57,212.40 L284.17,212.67 L284.77,212.95 L285.37,213.22 L285.97,213.49 L286.57,213.76 L287.18,214.02 L287.78,214.28 L288.39,214.54 L289.00,214.79 L289.61,215.04 L290.22,215.29 L290.83,215.53 L291.45,215.78 L292.06,216.01 L292.68,216.25 L293.30,216.48 L293.92,216.71 L294.54,216.94 L295.16,217.16 L295.78,217.38 L296.40,217.59 L297.03,217.81 L297.65,218.02 L298.28,218.22 L298.91,218.43 L299.54,218.62 L300.17,218.82 L300.80,219.01 L301.43,219.20 L302.07,219.39 L302.70,219.57 L303.34,219.75 L303.98,219.93 L304.61,220.10 L305.25,220.27 L305.89,220.43 L306.53,220.60 L307.18,220.75 L307.82,220.91 L308.46,221.06 L309.11,221.21 L309.75,221.35 L310.40,221.49 L311.05,221.63 L311.69,221.76 L312.34,221.89 L312.99,222.02 L313.64,222.14 L314.30,222.26 L314.95,222.38 L315.60,222.49 L316.26,222.60 L316.91,222.70 L317.57,222.80 L318.22,222.90 L318.88,223.00 L319.54,223.08" stroke="#800080" stroke-width="2.05" stroke-dasharray="7.4 2.1 1.6 2.0 1.6 2.0" stroke-dashoffset="13.23"/>
<path d="M72.39,222.53 L72.90,222.45 L73.42,222.37 L73.94,222.28 L74.46,222.19 L74.97,222.11 L75.49,222.02 L76.00,221.93 L76.52,221.83 L77.03,221.74 L77.54,221.64 L78.05,221.55 L78.56,221.45 L79.07,221.35 L79.58,221.25 L80.09,221.14 L80.60,221.04 L81.11,220.93 L81.61,220.82 L82.12,220.72 L82.62,220.61 L83.13,220.49 L83.63,220.38 L84.14,220.26 L84.64,220.15 L85.14,220.03 L85.64,219.91 L86.14,219.79 L86.64,219.67 L87.14,219.55 L87.64,219.42 L88.14,219.30 L88.64,219.17 L89.14,219.04 L89.63,218.91 L90.13,218.78 L90.62,218.64 L91.12,218.51 L91.61,218.37 L92.11,218.24 L92.60,218.10 L93.09,217.96 L93.58,217.82 L94.07,217.68 L94.56,217.53 L95.05,217.39 L95.54,217.24 L96.03,217.10 L96.52,216.95 L97.01,216.80 L97.50,216.65 L97.98,216.50 L98.47,216.34 L98.96,216.19 L99.44,216.03 L99.93,215.88 L100.41,215.72 L100.89,215.57 L101.38,215.42 L101.86,215.26 L102.34,215.10 L102.83,214.94 L103.31,214.78 L103.79,214.62 L104.27,214.46 L104.75,214.30 L105.23,214.14 L105.71,213.97 L106.19,213.80 L106.67,213.64 L107.14,213.47 L107.62,213.30 L108.10,213.13 L108.57,212.96 L109.05,212.79 L109.53,212.61 L110.00,212.44 L110.48,212.26 L110.95,212.09 L111.43,211.91 L111.90,211.73 L112.37,211.55 L112.85,211.37 L113.32,211.19 L113.79,211.00 L114.26,210.82 L114.74,210.64 L115.21,210.45 L115.68,210.27 L116.15,210.08 L116.62,209.89 L117.09,209.70 L117.56,209.51 L118.03,209.32 L118.50,209.13 L118.97,208.94 L119.43,208.74 L119.90,208.55 L120.37,208.35 L120.84,208.16 L121.31,207.96 L121.77,207.76 L122.24,207.56 L122.71,207.36 L123.17,207.16 L123.64,206.96 L124.10,206.76 L124.57,206.56 L125.03,206.36 L125.50,206.15 L125.96,205.95 L126.43,205.74 L126.89,205.54 L127.36,205.33 L127.82,205.12 L128.28,204.91 L128.75,204.70 L129.21,204.49 L129.67,204.28 L130.13,204.07 L130.60,203.86 L131.06,203.65 L131.52,203.43 L131.98,203.22 L132.45,203.01 L132.91,202.79 L133.37,202.57 L133.83,202.36 L134.29,202.14 L134.75,201.92 L135.21,201.70 L135.67,201.49 L136.13,201.27 L136.59,201.05 L137.05,200.83 L137.52,200.60 L137.98,200.38 L138.44,200.16 L138.89,199.94 L139.35,199.71 L139.81,199.49 L140.27,199.27 L140.73,199.04 L141.19,198.82 L141.65,198.59 L142.11,198.36 L142.57,198.14 L143.03,197.91 L143.49,197.68 L143.95,197.45 L144.41,197.22 L144.87,196.99 L145.32,196.77 L145.78,196.54 L146.24,196.30 L146.70,196.07 L147.16,195.84 L147.62,195.61 L148.08,195.38 L148.54,195.15 L148.99,194.91 L149.45,194.68 L149.91,194.45 L150.37,194.21 L150.83,193.98 L151.29,193.74 L151.75,193.51 L152.21,193.28 L152.67,193.04 L153.12,192.80 L153.58,192.57 L154.04,192.33 L154.50,192.10 L154.96,191.86 L155.42,191.62 L155.88,191.38 L156.34,191.15 L156.80,190.91 L157.26,190.67 L157.72,190.43 L158.18,190.19 L158.64,189.96 L159.10,189.72 L159.56,189.48 L160.02,189.24 L160.48,189.00 L160.94,188.76 L161.40,188.52 L161.86,188.28 L162.32,188.04 L162.78,187.80 L163.24,187.57 L163.70,187.33 L164.16,187.09 L164.63,186.86 L165.09,186.63 L165.55,186.40 L166.02,186.17 L166.48,185.95 L166.94,185.72 L167.41,185.51 L167.87,185.29 L168.34,185.08 L168.80,184.87 L169.27,184.67 L169.74,184.47 L170.20,184.27 L170.67,184.08 L171.14,183.89 L171.61,183.71 L172.08,183.54 L172.55,183.37 L173.02,183.21 L173.50,183.05 L173.97,182.90 L174.44,182.76 L174.92,182.62 L175.39,182.49 L175.87,182.37 L176.35,182.26 L176.83,182.15 L177.31,182.05 L177.79,181.96 L178.27,181.88 L178.75,181.81 L179.23,181.75 L179.72,181.69 L180.20,181.65 L180.69,181.62 L181.18,181.59 L181.67,181.58 L182.16,181.58 L182.65,181.59 L183.14,181.61 L183.64,181.64 L184.13,181.68 L184.63,181.74 L185.13,181.80 L185.63,181.88 L186.13,181.97 L186.63,182.08 L187.13,182.19 L187.64,182.32 L188.14,182.46 L188.64,182.60 L189.15,182.76 L189.65,182.92 L190.15,183.09 L190.65,183.27 L191.15,183.45 L191.65,183.64 L192.14,183.84 L192.63,184.04 L193.12,184.24 L193.61,184.45 L194.09,184.65 L194.57,184.86 L195.04,185.07 L195.51,185.28 L195.98,185.49 L196.49,185.28 L196.96,185.07 L197.43,184.86 L197.91,184.65 L198.39,184.45 L198.88,184.24 L199.37,184.04 L199.86,183.84 L200.35,183.64 L200.85,183.45 L201.35,183.27 L201.85,183.09 L202.35,182.92 L202.85,182.76 L203.36,182.60 L203.86,182.46 L204.36,182.32 L204.87,182.19 L205.37,182.08 L205.87,181.97 L206.37,181.88 L206.87,181.80 L207.37,181.74 L207.87,181.68 L208.36,181.64 L208.86,181.61 L209.35,181.59 L209.84,181.58 L210.33,181.58 L210.82,181.59 L211.31,181.62 L211.80,181.65 L212.28,181.69 L212.77,181.75 L213.25,181.81 L213.73,181.88 L214.21,181.96 L214.69,182.05 L215.17,182.15 L215.65,182.26 L216.13,182.37 L216.61,182.49 L217.08,182.62 L217.56,182.76 L218.03,182.90 L218.50,183.05 L218.98,183.21 L219.45,183.37 L219.92,183.54 L220.39,183.71 L220.86,183.89 L221.33,184.08 L221.80,184.27 L222.26,184.47 L222.73,184.67 L223.20,184.87 L223.66,185.08 L224.13,185.29 L224.59,185.51 L225.06,185.72 L225.52,185.95 L225.98,186.17 L226.45,186.40 L226.91,186.63 L227.37,186.86 L227.84,187.09 L228.30,187.33 L228.76,187.57 L229.22,187.80 L229.68,188.04 L230.14,188.28 L230.60,188.52 L231.06,188.76 L231.52,189.00 L231.98,189.24 L232.44,189.48 L232.90,189.72 L233.36,189.96 L233.82,190.19 L234.28,190.43 L234.74,190.67 L235.20,190.91 L235.66,191.15 L236.12,191.38 L236.58,191.62 L237.04,191.86 L237.50,192.10 L237.96,192.33 L238.42,192.57 L238.88,192.80 L239.33,193.04 L239.79,193.28 L240.25,193.51 L240.71,193.74 L241.17,193.98 L241.63,194.21 L242.09,194.45 L242.55,194.68 L243.01,194.91 L243.46,195.15 L243.92,195.38 L244.38,195.61 L244.84,195.84 L245.30,196.07 L245.76,196.30 L246.22,196.54 L246.68,196.77 L247.13,196.99 L247.59,197.22 L248.05,197.45 L248.51,197.68 L248.97,197.91 L249.43,198.14 L249.89,198.36 L250.35,198.59 L250.81,198.82 L251.27,199.04 L251.73,199.27 L252.19,199.49 L252.65,199.71 L253.11,199.94 L253.56,200.16 L254.02,200.38 L254.48,200.60 L254.95,200.83 L255.41,201.05 L255.87,201.27 L256.33,201.49 L256.79,201.70 L257.25,201.92 L257.71,202.14 L258.17,202.36 L258.63,202.57 L259.09,202.79 L259.55,203.01 L260.02,203.22 L260.48,203.43 L260.94,203.65 L261.40,203.86 L261.87,204.07 L262.33,204.28 L262.79,204.49 L263.25,204.70 L263.72,204.91 L264.18,205.12 L264.64,205.33 L265.11,205.54 L265.57,205.74 L266.04,205.95 L266.50,206.15 L266.97,206.36 L267.43,206.56 L267.90,206.76 L268.36,206.96 L268.83,207.16 L269.29,207.36 L269.76,207.56 L270.23,207.76 L270.69,207.96 L271.16,208.16 L271.63,208.35 L272.10,208.55 L272.57,208.74 L273.03,208.94 L273.50,209.13 L273.97,209.32 L274.44,209.51 L274.91,209.70 L275.38,209.89 L275.85,210.08 L276.32,210.27 L276.79,210.45 L277.26,210.64 L277.74,210.82 L278.21,211.01 L278.68,211.19 L279.15,211.38 L279.63,211.56 L280.10,211.75 L280.57,211.93 L281.05,212.12 L281.52,212.30 L282.00,212.48 L282.47,212.67 L282.95,212.85 L283.43,213.03 L283.90,213.21 L284.38,213.39 L284.86,213.57 L285.33,213.74 L285.81,213.92 L286.29,214.09 L286.77,214.27 L287.25,214.44 L287.73,214.61 L288.21,214.79 L288.69,214.96 L289.17,215.13 L289.66,215.29 L290.14,215.46 L290.62,215.63 L291.11,215.79 L291.59,215.96 L292.07,216.12 L292.56,216.28 L293.04,216.45 L293.53,216.61 L294.02,216.77 L294.50,216.92 L294.99,217.08 L295.48,217.24 L295.97,217.39 L296.46,217.54 L296.95,217.70 L297.44,217.85 L297.93,218.00 L298.42,218.15 L298.91,218.30 L299.40,218.44 L299.89,218.59 L300.39,218.73 L300.88,218.87 L301.38,219.02 L301.87,219.16 L302.37,219.30 L302.86,219.43 L303.36,219.57 L303.86,219.71 L304.36,219.84 L304.86,219.97 L305.36,220.11 L305.86,220.24 L306.36,220.36 L306.86,220.49 L307.36,220.62 L307.86,220.74 L308.37,220.87 L308.87,220.99 L309.38,221.11 L309.88,221.23 L310.39,221.35 L310.89,221.47 L311.40,221.58 L311.91,221.70 L312.42,221.81 L312.93,221.92 L313.44,222.03 L313.95,222.14 L314.46,222.24 L314.97,222.35 L315.48,222.45 L316.00,222.56 L316.51,222.66 L317.03,222.76 L317.54,222.85 L318.06,222.95 L318.58,223.05 L319.10,223.14 L319.61,223.23" stroke="#800000" stroke-width="2.05" stroke-dasharray="4.9 2.4" stroke-dashoffset="1.87"/>
<path d="M72.37,220.19 L72.89,220.16 L73.40,220.12 L73.91,220.08 L74.42,220.04 L74.92,220.00 L75.43,219.96 L75.94,219.91 L76.45,219.86 L76.95,219.81 L77.46,219.76 L77.96,219.71 L78.47,219.65 L78.97,219.59 L79.47,219.53 L79.97,219.47 L80.48,219.41 L80.98,219.34 L81.48,219.27 L81.98,219.20 L82.48,219.13 L82.98,219.06 L83.47,218.98 L83.97,218.90 L84.47,218.82 L84.97,218.74 L85.46,218.66 L85.96,218.57 L86.45,218.49 L86.95,218.40 L87.44,218.31 L87.93,218.21 L88.43,218.12 L88.92,218.02 L89.41,217.93 L89.90,217.83 L90.39,217.73 L90.88,217.62 L91.37,217.52 L91.86,217.41 L92.35,217.31 L92.84,217.20 L93.33,217.09 L93.81,216.98 L94.30,216.86 L94.79,216.75 L95.27,216.63 L95.76,216.51 L96.24,216.39 L96.73,216.27 L97.21,216.14 L97.69,216.02 L98.18,215.89 L98.66,215.77 L99.14,215.64 L99.62,215.51 L100.10,215.38 L100.58,215.25 L101.06,215.12 L101.54,214.99 L102.02,214.85 L102.50,214.72 L102.98,214.59 L103.46,214.45 L103.94,214.31 L104.41,214.17 L104.89,214.03 L105.37,213.89 L105.84,213.75 L106.32,213.60 L106.79,213.46 L107.27,213.31 L107.74,213.16 L108.22,213.01 L108.69,212.86 L109.16,212.71 L109.64,212.56 L110.11,212.40 L110.58,212.25 L111.05,212.09 L111.53,211.93 L112.00,211.78 L112.47,211.62 L112.94,211.46 L113.41,211.29 L113.88,211.13 L114.35,210.97 L114.82,210.80 L115.29,210.64 L115.75,210.47 L116.22,210.30 L116.69,210.13 L117.16,209.96 L117.63,209.79 L118.09,209.62 L118.56,209.45 L119.03,209.27 L119.49,209.10 L119.96,208.92 L120.42,208.75 L120.89,208.57 L121.35,208.39 L121.82,208.21 L122.28,208.03 L122.75,207.85 L123.21,207.67 L123.68,207.49 L124.14,207.31 L124.60,207.12 L125.07,206.94 L125.53,206.76 L125.99,206.57 L126.45,206.38 L126.91,206.20 L127.38,206.01 L127.84,205.82 L128.30,205.63 L128.76,205.44 L129.22,205.25 L129.68,205.06 L130.14,204.87 L130.60,204.68 L131.06,204.48 L131.52,204.29 L131.98,204.10 L132.44,203.90 L132.90,203.71 L133.36,203.51 L133.82,203.32 L134.28,203.12 L134.74,202.92 L135.20,202.73 L135.65,202.53 L136.11,202.33 L136.57,202.13 L137.03,201.93 L137.49,201.74 L137.94,201.54 L138.40,201.34 L138.86,201.14 L139.32,200.94 L139.77,200.73 L140.23,200.53 L140.69,200.33 L141.14,200.13 L141.60,199.93 L142.06,199.73 L142.51,199.52 L142.97,199.32 L143.43,199.12 L143.88,198.92 L144.34,198.71 L144.79,198.51 L145.25,198.31 L145.71,198.10 L146.16,197.90 L146.62,197.69 L147.07,197.49 L147.53,197.29 L147.98,197.08 L148.44,196.88 L148.89,196.67 L149.35,196.47 L149.80,196.26 L150.26,196.06 L150.72,195.86 L151.17,195.65 L151.63,195.45 L152.08,195.24 L152.54,195.04 L152.99,194.84 L153.45,194.63 L153.90,194.43 L154.36,194.23 L154.82,194.03 L155.27,193.83 L155.73,193.63 L156.18,193.43 L156.64,193.23 L157.10,193.03 L157.56,192.84 L158.01,192.64 L158.47,192.45 L158.93,192.26 L159.39,192.07 L159.85,191.88 L160.31,191.69 L160.77,191.50 L161.23,191.32 L161.69,191.13 L162.16,190.95 L162.62,190.77 L163.08,190.59 L163.55,190.41 L164.01,190.24 L164.48,190.07 L164.94,189.90 L165.41,189.73 L165.88,189.56 L166.35,189.40 L166.81,189.23 L167.28,189.08 L167.76,188.92 L168.23,188.76 L168.70,188.61 L169.17,188.46 L169.65,188.32 L170.12,188.17 L170.60,188.03 L171.08,187.89 L171.55,187.76 L172.03,187.63 L172.51,187.50 L172.99,187.37 L173.48,187.25 L173.96,187.13 L174.44,187.01 L174.93,186.89 L175.41,186.78 L175.90,186.67 L176.38,186.56 L176.87,186.46 L177.36,186.36 L177.85,186.26 L178.34,186.16 L178.83,186.07 L179.32,185.98 L179.81,185.89 L180.30,185.81 L180.80,185.73 L181.29,185.65 L181.78,185.57 L182.28,185.50 L182.77,185.43 L183.27,185.36 L183.76,185.29 L184.26,185.23 L184.75,185.17 L185.25,185.11 L185.75,185.06 L186.25,185.01 L186.74,184.96 L187.24,184.91 L187.74,184.87 L188.24,184.83 L188.74,184.79 L189.24,184.75 L189.74,184.72 L190.24,184.69 L190.74,184.66 L191.24,184.64 L191.74,184.62 L192.24,184.60 L192.74,184.58 L193.24,184.57 L193.74,184.55 L194.24,184.54 L194.74,184.54 L195.24,184.53 L195.75,184.53 L196.25,184.53 L196.75,184.54 L197.25,184.55 L197.75,184.55 L198.25,184.57 L198.75,184.58 L199.25,184.60 L199.75,184.62 L200.25,184.64 L200.75,184.66 L201.25,184.69 L201.75,184.72 L202.25,184.76 L202.75,184.79 L203.24,184.83 L203.74,184.87 L204.24,184.91 L204.74,184.96 L205.24,185.01 L205.73,185.06 L206.23,185.11 L206.73,185.17 L207.22,185.22 L207.72,185.28 L208.22,185.35 L208.71,185.41 L209.21,185.48 L209.70,185.56 L210.19,185.63 L210.69,185.71 L211.18,185.78 L211.67,185.87 L212.17,185.95 L212.66,186.04 L213.15,186.13 L213.64,186.22 L214.13,186.31 L214.62,186.41 L215.11,186.51 L215.59,186.61 L216.08,186.72 L216.57,186.82 L217.06,186.93 L217.54,187.05 L218.03,187.16 L218.51,187.28 L218.99,187.40 L219.48,187.52 L219.96,187.65 L220.44,187.77 L220.92,187.90 L221.40,188.04 L221.88,188.17 L222.36,188.31 L222.84,188.45 L223.31,188.59 L223.79,188.74 L224.26,188.89 L224.74,189.04 L225.21,189.19 L225.68,189.35 L226.15,189.51 L226.62,189.67 L227.09,189.83 L227.56,189.99 L228.03,190.16 L228.50,190.33 L228.96,190.51 L229.43,190.68 L229.89,190.86 L230.36,191.04 L230.82,191.22 L231.28,191.40 L231.74,191.59 L232.20,191.77 L232.66,191.96 L233.12,192.15 L233.58,192.35 L234.04,192.54 L234.50,192.74 L234.95,192.93 L235.41,193.13 L235.87,193.33 L236.32,193.53 L236.78,193.73 L237.23,193.93 L237.69,194.14 L238.14,194.34 L238.59,194.55 L239.05,194.75 L239.50,194.96 L239.95,195.17 L240.41,195.38 L240.86,195.59 L241.31,195.80 L241.76,196.01 L242.22,196.22 L242.67,196.43 L243.12,196.64 L243.57,196.85 L244.03,197.06 L244.48,197.27 L244.93,197.48 L245.38,197.69 L245.84,197.90 L246.29,198.11 L246.74,198.32 L247.19,198.53 L247.65,198.74 L248.10,198.95 L248.55,199.16 L249.01,199.37 L249.46,199.58 L249.92,199.78 L250.37,199.99 L250.83,200.19 L251.28,200.40 L251.74,200.61 L252.19,200.81 L252.65,201.01 L253.10,201.22 L253.56,201.42 L254.02,201.62 L254.47,201.82 L254.93,202.02 L255.39,202.22 L255.84,202.42 L256.30,202.62 L256.76,202.82 L257.22,203.02 L257.68,203.22 L258.14,203.41 L258.59,203.61 L259.05,203.80 L259.51,204.00 L259.97,204.19 L260.43,204.39 L260.89,204.58 L261.35,204.77 L261.81,204.96 L262.27,205.15 L262.74,205.34 L263.20,205.53 L263.66,205.72 L264.12,205.91 L264.58,206.09 L265.05,206.28 L265.51,206.46 L265.97,206.65 L266.44,206.83 L266.90,207.01 L267.36,207.20 L267.83,207.38 L268.29,207.56 L268.76,207.74 L269.22,207.91 L269.69,208.09 L270.15,208.27 L270.62,208.44 L271.09,208.62 L271.55,208.79 L272.02,208.97 L272.49,209.14 L272.96,209.31 L273.42,209.48 L273.89,209.65 L274.36,209.82 L274.83,209.98 L275.30,210.15 L275.77,210.31 L276.24,210.48 L276.71,210.64 L277.18,210.80 L277.65,210.96 L278.12,211.13 L278.59,211.29 L279.07,211.45 L279.54,211.61 L280.01,211.77 L280.48,211.94 L280.96,212.10 L281.43,212.26 L281.91,212.41 L282.38,212.57 L282.85,212.73 L283.33,212.88 L283.80,213.04 L284.28,213.19 L284.76,213.35 L285.23,213.50 L285.71,213.65 L286.19,213.80 L286.66,213.95 L287.14,214.10 L287.62,214.24 L288.10,214.39 L288.58,214.54 L289.06,214.68 L289.54,214.82 L290.02,214.96 L290.50,215.10 L290.98,215.24 L291.46,215.38 L291.94,215.52 L292.42,215.65 L292.91,215.79 L293.39,215.92 L293.87,216.05 L294.36,216.18 L294.84,216.31 L295.33,216.44 L295.81,216.57 L296.30,216.69 L296.78,216.82 L297.27,216.94 L297.75,217.06 L298.24,217.18 L298.73,217.30 L299.22,217.42 L299.70,217.54 L300.19,217.65 L300.68,217.77 L301.17,217.88 L301.66,217.99 L302.15,218.10 L302.64,218.21 L303.13,218.31 L303.62,218.42 L304.12,218.52 L304.61,218.63 L305.10,218.73 L305.59,218.83 L306.09,218.92 L306.58,219.02 L307.08,219.12 L307.57,219.21 L308.07,219.30 L308.56,219.39 L309.06,219.48 L309.56,219.57 L310.05,219.65 L310.55,219.74 L311.05,219.82 L311.55,219.90 L312.05,219.98 L312.55,220.06 L313.05,220.14 L313.55,220.21 L314.05,220.28 L314.55,220.35 L315.05,220.42 L315.55,220.49 L316.05,220.56 L316.56,220.62 L317.06,220.69 L317.57,220.75 L318.07,220.81 L318.58,220.87 L319.08,220.92 L319.59,220.97" stroke="#0000a0" stroke-width="2.05" stroke-dasharray="2.0 0.7"/>
<path d="M72.39,217.83 L72.90,217.77 L73.40,217.71 L73.90,217.65 L74.41,217.59 L74.91,217.53 L75.41,217.46 L75.91,217.40 L76.41,217.33 L76.91,217.26 L77.41,217.19 L77.90,217.11 L78.40,217.04 L78.90,216.97 L79.40,216.89 L79.89,216.81 L80.39,216.73 L80.88,216.65 L81.38,216.57 L81.87,216.49 L82.36,216.40 L82.86,216.32 L83.35,216.23 L83.84,216.14 L84.33,216.05 L84.82,215.96 L85.31,215.86 L85.80,215.77 L86.29,215.67 L86.78,215.58 L87.27,215.48 L87.76,215.38 L88.25,215.28 L88.73,215.18 L89.22,215.07 L89.71,214.97 L90.19,214.86 L90.68,214.76 L91.16,214.65 L91.65,214.54 L92.13,214.43 L92.61,214.32 L93.10,214.20 L93.58,214.09 L94.06,213.97 L94.54,213.86 L95.02,213.74 L95.51,213.62 L95.99,213.50 L96.47,213.38 L96.95,213.26 L97.42,213.13 L97.90,213.01 L98.38,212.88 L98.86,212.76 L99.34,212.63 L99.82,212.50 L100.29,212.37 L100.77,212.24 L101.24,212.12 L101.72,211.99 L102.20,211.86 L102.67,211.73 L103.15,211.60 L103.62,211.46 L104.09,211.33 L104.57,211.20 L105.04,211.06 L105.51,210.92 L105.99,210.79 L106.46,210.65 L106.93,210.51 L107.40,210.37 L107.87,210.23 L108.34,210.08 L108.81,209.94 L109.28,209.80 L109.75,209.65 L110.22,209.50 L110.69,209.36 L111.16,209.21 L111.63,209.06 L112.10,208.91 L112.57,208.76 L113.03,208.61 L113.50,208.45 L113.97,208.30 L114.44,208.14 L114.90,207.99 L115.37,207.83 L115.83,207.68 L116.30,207.52 L116.77,207.36 L117.23,207.20 L117.70,207.04 L118.16,206.88 L118.63,206.72 L119.09,206.55 L119.55,206.39 L120.02,206.23 L120.48,206.06 L120.94,205.89 L121.41,205.73 L121.87,205.56 L122.33,205.39 L122.79,205.22 L123.26,205.05 L123.72,204.88 L124.18,204.71 L124.64,204.54 L125.10,204.37 L125.56,204.19 L126.02,204.02 L126.48,203.85 L126.94,203.67 L127.40,203.49 L127.86,203.32 L128.32,203.14 L128.78,202.96 L129.24,202.78 L129.70,202.61 L130.16,202.43 L130.62,202.25 L131.08,202.07 L131.54,201.89 L132.00,201.70 L132.46,201.52 L132.92,201.34 L133.38,201.16 L133.83,200.98 L134.29,200.80 L134.75,200.61 L135.21,200.43 L135.67,200.25 L136.13,200.06 L136.59,199.88 L137.05,199.70 L137.51,199.52 L137.97,199.33 L138.43,199.15 L138.89,198.97 L139.35,198.78 L139.81,198.60 L140.27,198.42 L140.73,198.24 L141.19,198.05 L141.65,197.87 L142.11,197.69 L142.57,197.51 L143.03,197.33 L143.49,197.15 L143.96,196.97 L144.42,196.79 L144.88,196.61 L145.34,196.43 L145.81,196.25 L146.27,196.07 L146.74,195.89 L147.20,195.72 L147.67,195.54 L148.13,195.36 L148.60,195.19 L149.06,195.01 L149.53,194.84 L150.00,194.67 L150.46,194.50 L150.93,194.32 L151.40,194.15 L151.87,193.98 L152.34,193.82 L152.81,193.65 L153.28,193.48 L153.75,193.32 L154.22,193.15 L154.69,192.99 L155.17,192.82 L155.64,192.66 L156.11,192.50 L156.59,192.34 L157.06,192.18 L157.53,192.02 L158.01,191.87 L158.48,191.71 L158.96,191.56 L159.43,191.40 L159.91,191.25 L160.39,191.10 L160.86,190.95 L161.34,190.80 L161.82,190.66 L162.30,190.51 L162.77,190.37 L163.25,190.22 L163.73,190.08 L164.21,189.94 L164.69,189.80 L165.17,189.67 L165.65,189.53 L166.13,189.40 L166.61,189.26 L167.09,189.13 L167.57,189.00 L168.05,188.87 L168.54,188.75 L169.02,188.62 L169.50,188.50 L169.98,188.38 L170.46,188.26 L170.95,188.14 L171.43,188.02 L171.91,187.91 L172.40,187.80 L172.88,187.69 L173.37,187.58 L173.85,187.47 L174.34,187.36 L174.82,187.26 L175.31,187.16 L175.79,187.06 L176.28,186.96 L176.76,186.86 L177.25,186.77 L177.73,186.68 L178.22,186.59 L178.70,186.50 L179.19,186.42 L179.68,186.33 L180.16,186.25 L180.65,186.17 L181.14,186.09 L181.62,186.02 L182.11,185.95 L182.60,185.87 L183.09,185.81 L183.57,185.74 L184.06,185.68 L184.55,185.61 L185.04,185.56 L185.52,185.50 L186.01,185.44 L186.50,185.39 L186.99,185.34 L187.48,185.30 L187.96,185.25 L188.45,185.21 L188.94,185.17 L189.43,185.13 L189.92,185.10 L190.41,185.06 L190.89,185.04 L191.38,185.01 L191.87,184.98 L192.36,184.96 L192.85,184.94 L193.34,184.93 L193.82,184.91 L194.31,184.90 L194.80,184.89 L195.29,184.89 L195.78,184.89 L196.27,184.89 L196.75,184.89 L197.24,184.90 L197.73,184.91 L198.22,184.92 L198.71,184.93 L199.19,184.95 L199.68,184.97 L200.17,184.99 L200.66,185.02 L201.14,185.04 L201.63,185.07 L202.12,185.11 L202.61,185.14 L203.09,185.18 L203.58,185.22 L204.07,185.26 L204.56,185.31 L205.04,185.36 L205.53,185.41 L206.02,185.46 L206.50,185.52 L206.99,185.57 L207.48,185.63 L207.96,185.70 L208.45,185.76 L208.93,185.83 L209.42,185.90 L209.91,185.97 L210.39,186.04 L210.88,186.12 L211.36,186.19 L211.85,186.27 L212.33,186.36 L212.82,186.44 L213.30,186.53 L213.79,186.62 L214.27,186.71 L214.76,186.80 L215.24,186.89 L215.72,186.99 L216.21,187.09 L216.69,187.19 L217.17,187.29 L217.66,187.39 L218.14,187.50 L218.62,187.61 L219.11,187.72 L219.59,187.83 L220.07,187.94 L220.55,188.06 L221.03,188.17 L221.52,188.29 L222.00,188.41 L222.48,188.53 L222.96,188.66 L223.44,188.78 L223.92,188.91 L224.40,189.04 L224.88,189.16 L225.36,189.30 L225.84,189.43 L226.32,189.56 L226.80,189.70 L227.28,189.84 L227.76,189.97 L228.23,190.11 L228.71,190.25 L229.19,190.40 L229.67,190.54 L230.14,190.69 L230.62,190.83 L231.10,190.98 L231.57,191.13 L232.05,191.28 L232.53,191.43 L233.00,191.58 L233.48,191.74 L233.95,191.89 L234.43,192.05 L234.90,192.20 L235.37,192.36 L235.85,192.52 L236.32,192.68 L236.79,192.84 L237.27,193.01 L237.74,193.17 L238.21,193.33 L238.68,193.50 L239.16,193.66 L239.63,193.83 L240.10,194.00 L240.57,194.17 L241.04,194.33 L241.51,194.50 L241.98,194.68 L242.45,194.85 L242.91,195.02 L243.38,195.19 L243.85,195.36 L244.32,195.54 L244.79,195.71 L245.25,195.89 L245.72,196.06 L246.19,196.24 L246.65,196.42 L247.12,196.60 L247.58,196.77 L248.05,196.95 L248.51,197.13 L248.97,197.31 L249.44,197.49 L249.90,197.67 L250.36,197.85 L250.83,198.03 L251.29,198.21 L251.75,198.39 L252.21,198.57 L252.67,198.76 L253.13,198.94 L253.59,199.12 L254.06,199.30 L254.52,199.48 L254.98,199.67 L255.44,199.85 L255.90,200.03 L256.36,200.21 L256.82,200.40 L257.28,200.58 L257.74,200.76 L258.19,200.94 L258.65,201.12 L259.11,201.31 L259.57,201.49 L260.03,201.67 L260.49,201.85 L260.95,202.03 L261.41,202.21 L261.87,202.39 L262.33,202.57 L262.79,202.75 L263.25,202.93 L263.71,203.11 L264.16,203.28 L264.62,203.46 L265.08,203.64 L265.54,203.82 L266.00,203.99 L266.46,204.17 L266.92,204.34 L267.38,204.52 L267.84,204.69 L268.30,204.86 L268.77,205.04 L269.23,205.21 L269.69,205.38 L270.15,205.55 L270.61,205.72 L271.07,205.88 L271.54,206.05 L272.00,206.22 L272.46,206.38 L272.92,206.55 L273.39,206.71 L273.85,206.88 L274.31,207.04 L274.78,207.20 L275.24,207.36 L275.71,207.52 L276.17,207.68 L276.64,207.84 L277.10,207.99 L277.57,208.15 L278.04,208.31 L278.50,208.46 L278.97,208.62 L279.44,208.78 L279.90,208.94 L280.37,209.09 L280.84,209.25 L281.31,209.40 L281.78,209.56 L282.24,209.71 L282.71,209.87 L283.18,210.02 L283.65,210.17 L284.12,210.32 L284.59,210.47 L285.07,210.62 L285.54,210.77 L286.01,210.92 L286.48,211.06 L286.95,211.21 L287.43,211.36 L287.90,211.50 L288.37,211.64 L288.85,211.79 L289.32,211.93 L289.80,212.07 L290.27,212.21 L290.75,212.35 L291.22,212.48 L291.70,212.62 L292.18,212.76 L292.65,212.89 L293.13,213.02 L293.61,213.16 L294.09,213.29 L294.56,213.42 L295.04,213.55 L295.52,213.68 L296.00,213.81 L296.48,213.93 L296.96,214.06 L297.45,214.18 L297.93,214.30 L298.41,214.43 L298.89,214.55 L299.37,214.67 L299.86,214.79 L300.34,214.90 L300.83,215.02 L301.31,215.14 L301.80,215.25 L302.28,215.36 L302.77,215.47 L303.26,215.59 L303.74,215.69 L304.23,215.80 L304.72,215.91 L305.21,216.02 L305.70,216.12 L306.19,216.22 L306.68,216.33 L307.17,216.43 L307.66,216.53 L308.15,216.63 L308.64,216.72 L309.13,216.82 L309.63,216.91 L310.12,217.01 L310.62,217.10 L311.11,217.19 L311.61,217.28 L312.10,217.37 L312.60,217.46 L313.09,217.54 L313.59,217.63 L314.09,217.71 L314.59,217.79 L315.09,217.87 L315.59,217.95 L316.09,218.03 L316.59,218.10 L317.09,218.18 L317.59,218.25 L318.09,218.32 L318.60,218.40 L319.10,218.46 L319.61,218.53" stroke="#ff8000" stroke-width="2.05" stroke-dasharray="6.7 0.9 1.6 0.9"/>
</g>
<g stroke="#000" stroke-width="1.00" fill="none">
<rect x="72.50" y="47.50" width="247.00" height="181.90"/>
<path d="M72.50,229.40v4.20M72.50,47.50v-4.20M103.38,229.40v2.30M103.38,47.50v-2.30M134.25,229.40v4.20M134.25,47.50v-4.20M165.12,229.40v2.30M165.12,47.50v-2.30M196.00,229.40v4.20M196.00,47.50v-4.20M226.88,229.40v2.30M226.88,47.50v-2.30M257.75,229.40v4.20M257.75,47.50v-4.20M288.62,229.40v2.30M288.62,47.50v-2.30M319.50,229.40v4.20M319.50,47.50v-4.20M72.50,229.40h-4.50M319.50,229.40h4.50M72.50,211.21h-2.50M319.50,211.21h2.50M72.50,193.02h-4.50M319.50,193.02h4.50M72.50,174.83h-2.50M319.50,174.83h2.50M72.50,156.64h-4.50M319.50,156.64h4.50M72.50,138.45h-2.50M319.50,138.45h2.50M72.50,120.26h-4.50M319.50,120.26h4.50M72.50,102.07h-2.50M319.50,102.07h2.50M72.50,83.88h-4.50M319.50,83.88h4.50M72.50,65.69h-2.50M319.50,65.69h2.50M72.50,47.50h-4.50M319.50,47.50h4.50"/>
</g>
<text transform="translate(66.50,234.60) scale(1.0000,1.0250)" font-size="15.15" text-anchor="end">0.0</text>
<text transform="translate(66.50,198.22) scale(1.0000,1.0250)" font-size="15.15" text-anchor="end">0.1</text>
<text transform="translate(66.50,161.84) scale(1.0000,1.0250)" font-size="15.15" text-anchor="end">0.2</text>
<text transform="translate(66.50,125.46) scale(1.0000,1.0250)" font-size="15.15" text-anchor="end">0.3</text>
<text transform="translate(66.50,89.08) scale(1.0000,1.0250)" font-size="15.15" text-anchor="end">0.4</text>
<text transform="translate(66.50,52.70) scale(1.0000,1.0250)" font-size="15.15" text-anchor="end">0.5</text>
<text transform="translate(72.50,247.30) scale(1.0000,1.0250)" font-size="15.15" text-anchor="middle">-0.2</text>
<text transform="translate(134.25,247.30) scale(1.0000,1.0250)" font-size="15.15" text-anchor="middle">-0.1</text>
<text transform="translate(196.00,247.30) scale(1.0000,1.0250)" font-size="15.15" text-anchor="middle">0.0</text>
<text transform="translate(257.75,247.30) scale(1.0000,1.0250)" font-size="15.15" text-anchor="middle">0.1</text>
<text transform="translate(319.50,247.30) scale(1.0000,1.0250)" font-size="15.15" text-anchor="middle">0.2</text>
<text transform="translate(190.40,264.80) scale(1.0000,1.0000)" font-size="15.50" text-anchor="start" font-family="Liberation Serif">ε</text>
<text transform="translate(196.30,269.90) scale(1.0000,1.0000)" font-size="10.60" text-anchor="start">0</text>
<text font-size="15.2" letter-spacing="-0.36" transform="translate(31.2,169.3) rotate(-90)">G<tspan dx="-0.4"> (2e</tspan><tspan font-size="9.4" dy="-9">2</tspan><tspan dy="9" dx="-0.4">/h)</tspan></text>
<g fill="none">
<path d="M251.8,61.30H276.9" stroke="#000000" stroke-width="2.10"/>
<path d="M251.8,74.70H276.9" stroke="#ff0000" stroke-width="2.10" stroke-dasharray="8.6 6.6"/>
<path d="M251.8,87.90H276.9" stroke="#0000ff" stroke-width="2.10" stroke-dasharray="3.5 5.4"/>
<path d="M251.8,101.20H276.9" stroke="#008000" stroke-width="2.10" stroke-dasharray="10 2.9 3.2 3.15"/>
<path d="M251.8,114.70H276.9" stroke="#800080" stroke-width="2.10" stroke-dasharray="8.3 2.4 3.5 2.5 3.5 2.65"/>
<path d="M251.8,128.10H276.9" stroke="#800000" stroke-width="2.10" stroke-dasharray="4.8 2.07"/>
<path d="M251.8,141.40H276.9" stroke="#0000a0" stroke-width="2.10" stroke-dasharray="2.2 1.14"/>
<path d="M251.8,154.90H276.9" stroke="#ff8000" stroke-width="2.10" stroke-dasharray="7.0 1.7 2.2 1.75"/>
</g>
<text transform="translate(279.30,65.30) scale(1.0000,1.0600)" font-size="10.60" text-anchor="start"><tspan font-size="12.6" font-family="Liberation Serif">α</tspan><tspan dx="-0.5">=0.</tspan></text>
<text transform="translate(279.30,78.70) scale(1.0000,1.0600)" font-size="10.60" text-anchor="start"><tspan font-size="12.6" font-family="Liberation Serif">α</tspan><tspan dx="-0.5">=0.01</tspan></text>
<text transform="translate(279.30,91.90) scale(1.0000,1.0600)" font-size="10.60" text-anchor="start"><tspan font-size="12.6" font-family="Liberation Serif">α</tspan><tspan dx="-0.5">=0.05</tspan></text>
<text transform="translate(279.30,105.20) scale(1.0000,1.0600)" font-size="10.60" text-anchor="start"><tspan font-size="12.6" font-family="Liberation Serif">α</tspan><tspan dx="-0.5">=0.1</tspan></text>
<text transform="translate(279.30,118.70) scale(1.0000,1.0600)" font-size="10.60" text-anchor="start"><tspan font-size="12.6" font-family="Liberation Serif">α</tspan><tspan dx="-0.5">=0.2</tspan></text>
<text transform="translate(279.30,132.10) scale(1.0000,1.0600)" font-size="10.60" text-anchor="start"><tspan font-size="12.6" font-family="Liberation Serif">α</tspan><tspan dx="-0.5">=0.5</tspan></text>
<text transform="translate(279.30,145.40) scale(1.0000,1.0600)" font-size="10.60" text-anchor="start"><tspan font-size="12.6" font-family="Liberation Serif">α</tspan><tspan dx="-0.5">=0.7</tspan></text>
<text transform="translate(279.30,158.90) scale(1.0000,1.0600)" font-size="10.60" text-anchor="start"><tspan font-size="12.6" font-family="Liberation Serif">α</tspan><tspan dx="-0.5">=1.0</tspan></text>
</svg>
</body></html>
